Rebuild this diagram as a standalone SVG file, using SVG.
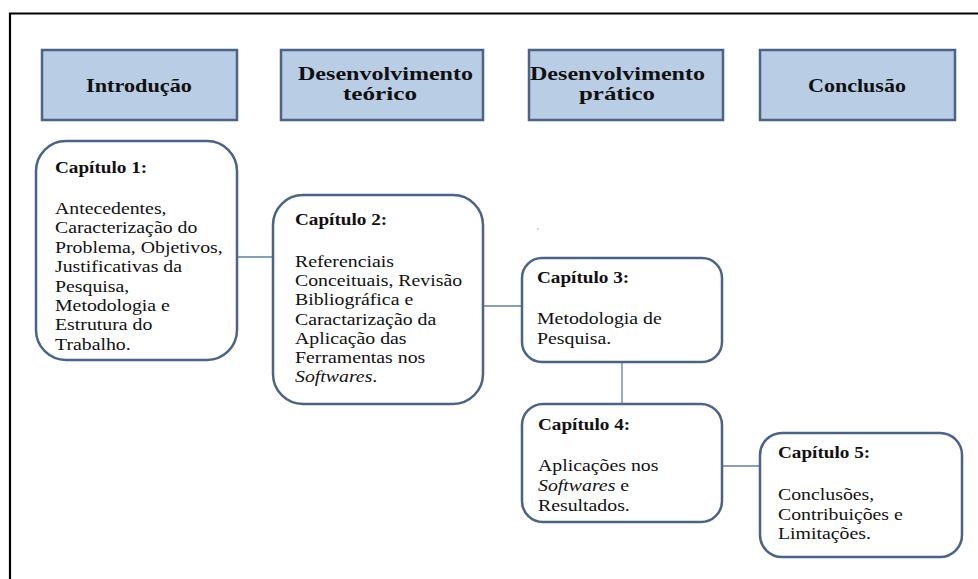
<svg xmlns="http://www.w3.org/2000/svg" width="978" height="579" viewBox="0 0 978 579">
<style>
.frame{stroke:#000;stroke-width:2.2;fill:none}
.hdr{fill:#B9CDE5;stroke:#4A6388;stroke-width:2.5}
.cap{fill:#fff;stroke:#4A6388;stroke-width:2.5}
.con{stroke:#5E7FA6;stroke-width:1.3;fill:none}
.ht{font-family:"Liberation Serif","Times New Roman",serif;font-weight:bold;font-size:18.5px;fill:#111}
.bt{font-family:"Liberation Serif","Times New Roman",serif;font-weight:bold;font-size:16px;fill:#111}
.rt{font-family:"Liberation Serif","Times New Roman",serif;font-size:16.5px;fill:#111}
</style>
<rect width="978" height="579" fill="#fff"/>
<path class="frame" d="M10 579 V13.5 H978"/>
<circle cx="538" cy="229" r="0.8" fill="#aaa"/>

<g id="connectors">
<line class="con" x1="237" y1="257" x2="273" y2="257"/>
<line class="con" x1="483" y1="306" x2="522" y2="306"/>
<line class="con" x1="622" y1="362" x2="622" y2="404"/>
<line class="con" x1="722" y1="466" x2="760" y2="466"/>
</g>

<g id="hdr-introducao">
<rect class="hdr" x="42" y="50" width="195" height="70"/>
<text class="ht" x="86" y="92" textLength="106" lengthAdjust="spacingAndGlyphs">Introdução</text>
</g>
<g id="hdr-teorico">
<rect class="hdr" x="281" y="50" width="202" height="70"/>
<text class="ht" x="298" y="80" textLength="175" lengthAdjust="spacingAndGlyphs">Desenvolvimento</text>
<text class="ht" x="343" y="100" textLength="74" lengthAdjust="spacingAndGlyphs">teórico</text>
</g>
<g id="hdr-pratico">
<rect class="hdr" x="529" y="50" width="194" height="70"/>
<text class="ht" x="530" y="80" textLength="175" lengthAdjust="spacingAndGlyphs">Desenvolvimento</text>
<text class="ht" x="579" y="100" textLength="76" lengthAdjust="spacingAndGlyphs">prático</text>
</g>
<g id="hdr-conclusao">
<rect class="hdr" x="760" y="50" width="195" height="70"/>
<text class="ht" x="808" y="92" textLength="98" lengthAdjust="spacingAndGlyphs">Conclusão</text>
</g>

<g id="cap1">
<rect class="cap" x="36" y="141" width="201" height="219" rx="30"/>
<g transform="translate(55 0) scale(1.2 1)">
<text class="bt" x="0" y="173">Capítulo 1:</text>
<text class="rt">
<tspan x="0" y="214">Antecedentes,</tspan>
<tspan x="0" y="233.4">Caracterização do</tspan>
<tspan x="0" y="252.8">Problema, Objetivos,</tspan>
<tspan x="0" y="272.2">Justificativas da</tspan>
<tspan x="0" y="291.6">Pesquisa,</tspan>
<tspan x="0" y="311">Metodologia e</tspan>
<tspan x="0" y="330.4">Estrutura do</tspan>
<tspan x="0" y="349.8">Trabalho.</tspan>
</text>
</g>
</g>

<g id="cap2">
<rect class="cap" x="273" y="195" width="210" height="209" rx="30"/>
<g transform="translate(295 0) scale(1.2 1)">
<text class="bt" x="0" y="225">Capítulo 2:</text>
<text class="rt">
<tspan x="0" y="267">Referenciais</tspan>
<tspan x="0" y="286.2">Conceituais, Revisão</tspan>
<tspan x="0" y="305.4">Bibliográfica e</tspan>
<tspan x="0" y="324.6">Caractarização da</tspan>
<tspan x="0" y="343.8">Aplicação das</tspan>
<tspan x="0" y="363">Ferramentas nos</tspan>
<tspan x="0" y="382.2" font-style="italic">Softwares</tspan><tspan>.</tspan>
</text>
</g>
</g>

<g id="cap3">
<rect class="cap" x="522" y="258" width="200" height="104" rx="20"/>
<g transform="translate(537 0) scale(1.2 1)">
<text class="bt" x="0" y="283">Capítulo 3:</text>
<text class="rt">
<tspan x="0" y="324">Metodologia de</tspan>
<tspan x="0" y="344">Pesquisa.</tspan>
</text>
</g>
</g>

<g id="cap4">
<rect class="cap" x="522" y="404" width="200" height="118" rx="21"/>
<g transform="translate(538 0) scale(1.2 1)">
<text class="bt" x="0" y="430">Capítulo 4:</text>
<text class="rt">
<tspan x="0" y="471">Aplicações nos</tspan>
<tspan x="0" y="491" font-style="italic">Softwares</tspan><tspan> e</tspan>
<tspan x="0" y="511">Resultados.</tspan>
</text>
</g>
</g>

<g id="cap5">
<rect class="cap" x="760" y="433" width="202" height="124" rx="22"/>
<g transform="translate(778 0) scale(1.2 1)">
<text class="bt" x="0" y="458">Capítulo 5:</text>
<text class="rt">
<tspan x="0" y="500">Conclusões,</tspan>
<tspan x="0" y="520">Contribuições e</tspan>
<tspan x="0" y="539">Limitações.</tspan>
</text>
</g>
</g>
</svg>
